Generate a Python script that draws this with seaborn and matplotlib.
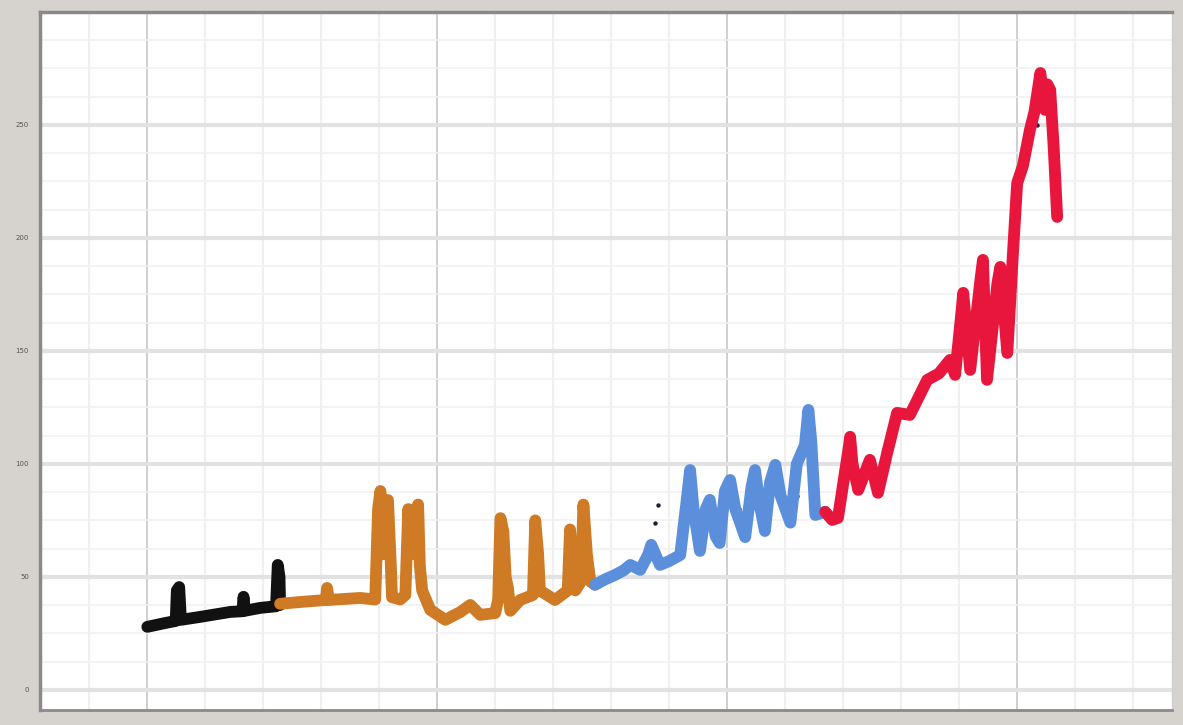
import matplotlib
matplotlib.use("Agg")
import matplotlib.pyplot as plt
from matplotlib.ticker import MultipleLocator
import numpy as np
import pandas as pd
import seaborn as sns

# Era segments: (year, value) pairs traced in drawing order
black_year = [1850.0, 1853.1, 1854.9, 1855.1, 1855.5, 1855.8, 1859.1, 1864.3, 1866.4, 1866.6,
              1866.8, 1869.5, 1872.2, 1872.5, 1872.8, 1872.9]
black_value = [27.9, 29.6, 30.5, 44.0, 45.5, 31.0, 32.3, 34.5, 34.8, 41.2,
               35.0, 36.3, 37.0, 55.3, 50.0, 37.6]

orange_year = [1872.9, 1876.4, 1880.8, 1881.0, 1881.3, 1886.7, 1889.3, 1889.8, 1890.2, 1890.6,
               1891.0, 1891.5, 1892.0, 1892.2, 1893.6, 1894.5, 1895.0, 1895.5, 1896.0, 1896.7,
               1897.0, 1897.4, 1898.8, 1901.4, 1904.0, 1905.7, 1907.4, 1910.0, 1910.5, 1910.9,
               1911.4, 1911.8, 1912.2, 1912.6, 1914.3, 1916.5, 1916.9, 1917.4, 1917.7, 1920.3,
               1922.5, 1922.9, 1923.4, 1923.8, 1924.8, 1925.2, 1925.8, 1926.4, 1927.2]
orange_value = [38.1, 38.9, 39.8, 45.1, 39.8, 40.7, 40.0, 80.0, 88.0, 60.0,
                75.0, 84.0, 55.0, 41.0, 40.0, 42.0, 80.0, 60.0, 78.0, 82.0,
                55.0, 44.0, 35.4, 31.0, 34.5, 37.6, 33.2, 34.0, 40.0, 76.0,
                70.0, 50.0, 45.0, 35.0, 39.8, 42.0, 75.0, 60.0, 44.0, 39.8,
                44.0, 71.0, 55.0, 44.0, 48.0, 82.0, 60.0, 48.0, 46.5]

blue_year = [1927.2, 1929.0, 1930.7, 1932.2, 1933.3, 1935.0, 1936.4, 1936.9, 1938.4, 1940.0,
             1941.9, 1943.2, 1943.6, 1944.2, 1945.3, 1946.3, 1947.0, 1948.0, 1948.7, 1949.6,
             1950.5, 1951.4, 1953.1, 1954.2, 1954.8, 1955.6, 1956.5, 1957.4, 1958.3, 1959.2,
             1960.9, 1962.0, 1963.4, 1964.0, 1964.5, 1965.2, 1966.9]
blue_value = [46.5, 49.0, 50.9, 53.0, 55.3, 53.1, 60.0, 64.2, 55.3, 57.0,
              59.7, 88.0, 97.3, 80.0, 61.5, 80.0, 84.1, 68.0, 65.0, 88.0,
              92.9, 80.0, 67.6, 90.0, 97.3, 82.0, 70.3, 92.0, 99.6, 86.0,
              74.0, 100.0, 108.4, 123.9, 110.0, 77.4, 78.8]

red_year = [1966.9, 1968.1, 1969.1, 1971.0, 1971.2, 1971.6, 1972.6, 1974.6, 1976.0, 1977.6,
            1979.3, 1981.5, 1984.5, 1986.5, 1988.4, 1989.3, 1990.5, 1990.7, 1991.9, 1993.6,
            1994.1, 1994.8, 1996.6, 1997.1, 1998.3, 1999.2, 2000.0, 2001.0, 2002.2, 2003.0,
            2004.0, 2004.5, 2004.8, 2005.2, 2005.7, 2006.3, 2006.9]
red_value = [78.8, 75.2, 76.1, 108.0, 112.0, 100.0, 88.5, 101.8, 87.2, 105.0,
             122.6, 121.7, 137.2, 140.0, 146.0, 139.4, 170.0, 175.7, 141.6, 180.0,
             190.3, 137.2, 180.0, 187.2, 149.1, 190.0, 224.3, 232.0, 247.8, 256.0,
             273.0, 262.0, 256.7, 268.0, 265.5, 240.0, 209.3]

# Scattered dark readings inside the spikes
dot_year = [1855.3, 1872.6, 1890.6, 1891.3, 1891.6, 1896.2, 1910.6, 1911.2, 1937.6, 1938.1,
            1952.0, 1962.0, 1989.6, 1995.5, 2003.5]
dot_value = [44.0, 52.0, 70.0, 72.0, 62.0, 66.0, 60.0, 66.0, 73.9, 81.9,
             80.0, 86.0, 150.0, 160.0, 250.0]

era_names = ["black", "orange", "blue", "red"]
era_colors = ["#111111", "#cf7a24", "#5b8fdc", "#e8163c"]

y_ticks = [0, 50, 100, 150, 200, 250]
y_tick_labels = ["0", "50", "100", "150", "200", "250"]

frames = []
for name, xs, ys in zip(era_names,
                        [black_year, orange_year, blue_year, red_year],
                        [black_value, orange_value, blue_value, red_value]):
    frames.append(pd.DataFrame({"year": xs, "value": ys, "era": name,
                                "order": np.arange(len(xs))}))
df = pd.concat(frames, ignore_index=True)

sns.set_theme(style="white")
plt.rcParams["font.family"] = ["DejaVu Sans"]

fig = plt.figure(figsize=(11.83, 7.25), dpi=100)
fig.patch.set_facecolor("#d6d3ce")
ax = fig.add_axes([40 / 1183, 15 / 725, 1132 / 1183, 698 / 725])
ax.set_facecolor("white")

sns.lineplot(data=df, x="year", y="value", hue="era", units="era", sort=False,
             estimator=None, palette=dict(zip(era_names, era_colors)),
             linewidth=8.5, legend=False, ax=ax, solid_capstyle="round",
             solid_joinstyle="round")
sns.scatterplot(x=dot_year, y=dot_value, color="#1c1c3a", s=10, linewidth=0, ax=ax)

ax.set_xlim(1831.5, 2026.7)
ax.set_ylim(-8.9, 300)

ax.set_yticks(y_ticks)
ax.set_yticklabels(y_tick_labels)
ax.yaxis.set_minor_locator(MultipleLocator(12.5))
ax.xaxis.set_major_locator(MultipleLocator(50))
ax.xaxis.set_minor_locator(MultipleLocator(10))
ax.set_xticklabels([])
ax.tick_params(axis="y", which="major", labelsize=5, labelcolor="#555555", length=0, pad=8)
ax.tick_params(axis="x", which="both", length=0)
ax.tick_params(which="minor", length=0)

ax.grid(True, axis="y", which="major", color="#e2e2e2", linewidth=3)
ax.grid(True, axis="y", which="minor", color="#f1f1f1", linewidth=1.2)
ax.grid(True, axis="x", which="major", color="#cccccc", linewidth=1.3)
ax.grid(True, axis="x", which="minor", color="#f0f0f0", linewidth=1.5)
ax.set_axisbelow(True)

for side in ["left", "top"]:
    ax.spines[side].set_color("#8a8a8a")
    ax.spines[side].set_linewidth(2.5)
ax.spines["bottom"].set_color("#8a8a8a")
ax.spines["bottom"].set_linewidth(2)
ax.spines["right"].set_color("#cfcfcf")
ax.spines["right"].set_linewidth(1)

ax.set_xlabel("")
ax.set_ylabel("")

fig.savefig("out.png", dpi=100, facecolor=fig.get_facecolor())
